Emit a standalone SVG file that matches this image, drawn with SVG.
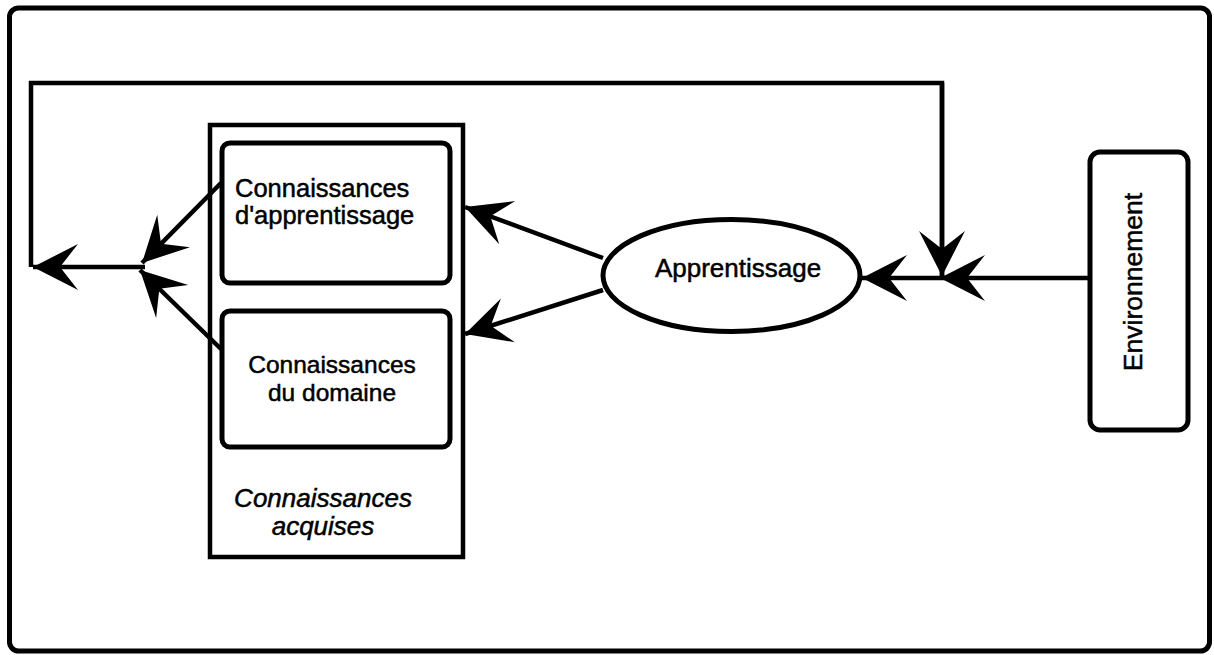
<svg xmlns="http://www.w3.org/2000/svg" width="1214" height="655" viewBox="0 0 1214 655">
  <style>
    .t { font-family: "Liberation Sans", Arial, Helvetica, sans-serif; fill: #000; stroke: #000; stroke-width: 0.5; }
    .box { fill: #fff; stroke: #000; stroke-width: 5; }
    .wire { fill: none; stroke: #000; stroke-width: 4.5; }
  </style>
  <defs>
    <marker id="ah" markerUnits="userSpaceOnUse" markerWidth="60" markerHeight="60" viewBox="-50 -30 60 60" refX="0" refY="0" orient="auto" overflow="visible">
      <path d="M0,0 L-45,-23 L-27,0 L-45,23 Z" fill="#000"/>
    </marker>
  </defs>
  <rect x="0" y="0" width="1214" height="655" fill="#fff"/>
  <rect id="frame" x="9.5" y="8" width="1200" height="643" rx="9" fill="none" stroke="#000" stroke-width="5"/>

  <g id="connectors">
    <path class="wire" d="M942,278 L942,83 L31,83 L31,267" fill="none"/>
    <path class="wire" d="M942,83 L942,276" marker-end="url(#ah)"/>
    <path class="wire" d="M145,267 L33,267" marker-end="url(#ah)"/>
    <path class="wire" d="M1088,278 L940,278" marker-end="url(#ah)"/>
    <path class="wire" d="M940,278 L862,278" marker-end="url(#ah)"/>
    <path class="wire" d="M603,258 L465,207" marker-end="url(#ah)"/>
    <path class="wire" d="M603,290 L465,334" marker-end="url(#ah)"/>
    <path class="wire" d="M221,183 L142,263" marker-end="url(#ah)"/>
    <path class="wire" d="M221,349 L140,270" marker-end="url(#ah)"/>
  </g>

  <g id="acquises">
    <rect x="210" y="125" width="253" height="432" fill="none" stroke="#000" stroke-width="4.5"/>
    <text class="t" x="323" y="507" font-size="26" font-style="italic" text-anchor="middle">Connaissances</text>
    <text class="t" x="323" y="535" font-size="26" font-style="italic" text-anchor="middle">acquises</text>
  </g>

  <g id="apprentissage-knowledge">
    <rect class="box" x="222" y="143" width="228" height="140" rx="8"/>
    <text class="t" x="235" y="197" font-size="25.5">Connaissances</text>
    <text class="t" x="235" y="224" font-size="25.5">d'apprentissage</text>
  </g>

  <g id="domaine-knowledge">
    <rect class="box" x="222" y="311" width="228" height="136" rx="8"/>
    <text class="t" x="332" y="373" font-size="24.5" text-anchor="middle">Connaissances</text>
    <text class="t" x="332" y="401" font-size="24.5" text-anchor="middle">du domaine</text>
  </g>

  <g id="apprentissage">
    <ellipse cx="731.5" cy="275.5" rx="128.5" ry="56" fill="#fff" stroke="#000" stroke-width="5"/>
    <text class="t" x="738" y="277" font-size="26" text-anchor="middle">Apprentissage</text>
  </g>

  <g id="environnement">
    <rect class="box" x="1090" y="152" width="98" height="278" rx="10"/>
    <text class="t" transform="translate(1142,282) rotate(-90)" x="0" y="0" font-size="26.5" text-anchor="middle">Environnement</text>
  </g>
</svg>
